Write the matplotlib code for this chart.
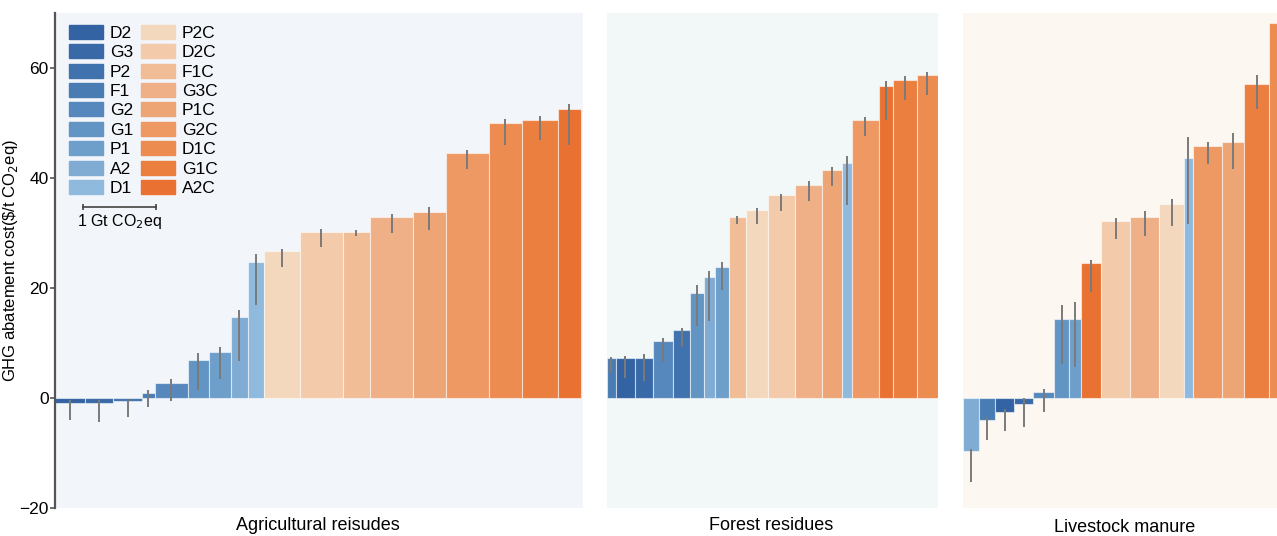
import numpy as np
import matplotlib.pyplot as plt

plt.rcParams['font.family'] = ['Liberation Sans', 'DejaVu Sans']

# legend order and colours
legend_names = ['D2', 'G3', 'P2', 'F1', 'G2', 'G1', 'P1', 'A2', 'D1',
                'P2C', 'D2C', 'F1C', 'G3C', 'P1C', 'G2C', 'D1C', 'G1C', 'A2C']
legend_colors = ['#3363a2', '#396aa7', '#4072ad', '#4a7cb4', '#5688bd', '#6295c4',
                 '#6e9fcb', '#80acd4', '#90b9de',
                 '#f4d8bd', '#f3cbaa', '#f1bd96', '#efb087', '#eea576', '#ee9863',
                 '#ed8c51', '#eb7f40', '#e97131']
cmap = dict(zip(legend_names, legend_colors))

# Agricultural residues: width (Gt CO2eq), cost ($/t CO2eq), uncertainty range
agri_names = ['D2', 'G3', 'P2', 'F1', 'G2', 'G1', 'P1', 'A2', 'D1',
              'P2C', 'D2C', 'F1C', 'G3C', 'P1C', 'G2C', 'D1C', 'G1C', 'A2C']
agri_width = [0.414, 0.386, 0.400, 0.179, 0.455, 0.290, 0.303, 0.234, 0.221,
              0.497, 0.589, 0.381, 0.593, 0.447, 0.593, 0.455, 0.501, 0.313]
agri_cost = [-1.0, -1.0, -0.7, 0.9, 2.6, 6.85, 8.2, 14.7, 24.6,
             26.7, 30.1, 30.2, 32.8, 33.8, 44.5, 49.9, 50.5, 52.4]
agri_lo = [-4.0, -4.5, -3.6, -1.8, -0.7, 1.3, 3.45, 6.7, 16.9,
           23.7, 27.3, 29.3, 29.9, 30.4, 41.5, 46.0, 46.9, 45.9]
agri_hi = [-0.5, -0.4, -0.2, 1.3, 3.3, 8.05, 9.2, 16.0, 26.2,
           27.1, 30.7, 30.5, 33.3, 34.6, 45.0, 50.7, 51.3, 53.4]

# Forest residues
forest_names = ['F1', 'D2', 'G3', 'G2', 'P2', 'G1', 'A2', 'P1',
                'F1C', 'P2C', 'D2C', 'G3C', 'P1C', 'D1', 'G2C', 'A2C', 'G1C', 'D1C']
forest_width = [0.124, 0.266, 0.252, 0.276, 0.230, 0.197, 0.143, 0.197,
                0.234, 0.299, 0.381, 0.372, 0.272, 0.138, 0.377, 0.189, 0.331, 0.290]
forest_cost = [7.15, 7.27, 7.27, 10.2, 12.3, 19.1, 22.0, 23.8,
               32.9, 34.2, 36.8, 38.7, 41.3, 42.7, 50.5, 56.7, 57.8, 58.6]
forest_lo = [4.4, 3.5, 3.1, 6.4, 9.15, 13.1, 13.9, 19.6,
             31.6, 31.5, 33.9, 35.8, 38.4, 35.0, 47.5, 50.4, 54.1, 55.0]
forest_hi = [7.3, 7.6, 7.9, 10.8, 12.7, 20.4, 23.1, 24.7,
             33.1, 34.5, 37.1, 39.3, 42.0, 43.9, 51.0, 57.5, 58.5, 59.2]

# Livestock manure
manure_names = ['A2', 'F1', 'D2', 'G3', 'G2', 'G1', 'P1', 'A2C',
                'D2C', 'G3C', 'P2C', 'D1', 'G2C', 'P1C', 'G1C', 'D1C']
manure_width = [0.221, 0.225, 0.262, 0.262, 0.290, 0.207, 0.166, 0.276,
                0.396, 0.404, 0.337, 0.128, 0.400, 0.303, 0.345, 0.300]
manure_cost = [-9.8, -4.1, -2.55, -1.15, 0.97, 14.2, 14.2, 24.4,
               32.2, 32.9, 35.2, 43.5, 45.8, 46.5, 57.1, 68.2]
manure_lo = [-15.4, -7.8, -6.1, -5.4, -2.7, 6.1, 5.6, 19.25,
             28.85, 29.3, 31.15, 31.6, 42.4, 41.6, 52.4, np.nan]
manure_hi = [-9.3, -3.45, -2.0, 0.0, 1.6, 16.9, 17.4, 25.1,
             32.7, 33.9, 36.2, 47.4, 46.4, 48.2, 58.7, np.nan]

W, H = 1277, 536
PX_PER_GT = 72.5
Y_TOP, Y_BOT = 12.7, 507.5

fig = plt.figure(figsize=(W / 100, H / 100), dpi=100)


def make_ax(x0, x1, bg):
    ax = fig.add_axes([x0 / W, 1 - Y_BOT / H, (x1 - x0) / W, (Y_BOT - Y_TOP) / H])
    ax.set_facecolor(bg)
    ax.set_xlim(0, (x1 - x0) / PX_PER_GT)
    ax.set_ylim(-20, 70)
    for s in ax.spines.values():
        s.set_visible(False)
    ax.set_xticks([])
    ax.set_yticks([])
    return ax


def draw(ax, names, widths, cost, lo, hi):
    widths = np.array(widths)
    left = np.concatenate([[0], np.cumsum(widths)[:-1]])
    ax.bar(left, cost, width=widths, align='edge',
           color=[cmap[n] for n in names],
           edgecolor=(1, 1, 1, 0.55), linewidth=0.8, zorder=2)
    ax.vlines(left + widths / 2, lo, hi, color='#7a7a7a', lw=1.4, zorder=3)


ax1 = make_ax(55, 583, '#f2f5f9')
ax2 = make_ax(606.7, 938, '#f2f7f8')
ax3 = make_ax(963, 1300, '#fcf7f1')

draw(ax1, agri_names, agri_width, agri_cost, agri_lo, agri_hi)
draw(ax2, forest_names, forest_width, forest_cost, forest_lo, forest_hi)
draw(ax3, manure_names, manure_width, manure_cost, manure_lo, manure_hi)

# y axis on first panel
ax1.spines['left'].set_visible(True)
ax1.spines['left'].set_color('#555555')
ax1.spines['left'].set_linewidth(1.6)
ax1.set_yticks([-20, 0, 20, 40, 60])
ax1.tick_params(axis='y', length=3.5, width=1.2, color='#555555',
                labelsize=12.5, pad=1)
ax1.set_ylabel(r'GHG abatement cost(\$/t CO$_2$eq)', fontsize=12)
ax1.yaxis.set_label_coords(-0.067, 0.50)

# legend
handles = [plt.Rectangle((0, 0), 1, 1, color=c) for c in legend_colors]
ax1.legend(handles, legend_names, ncol=2, loc='upper left',
           bbox_to_anchor=(0.004, 1.0), frameon=False, fontsize=12.5,
           handlelength=1.95, handleheight=0.85, handletextpad=0.4,
           labelspacing=0.2, columnspacing=0.45, borderaxespad=0.3)

# scale bar: 1 Gt CO2eq
sb_x = 0.39
ax1.plot([sb_x, sb_x + 1.0], [34.6, 34.6], color='#444444', lw=1.2,
         marker='|', markersize=5, markeredgewidth=1.2)
ax1.text(sb_x + 0.5, 32.0, '1 Gt CO$_2$eq', ha='center', va='center', fontsize=11.5)

fig.text(318 / W, 1 - 525 / H, 'Agricultural reisudes', ha='center', va='center', fontsize=13)
fig.text(771 / W, 1 - 525 / H, 'Forest residues', ha='center', va='center', fontsize=13)
fig.text(1125 / W, 1 - 528 / H, 'Livestock manure', ha='center', va='center', fontsize=13)

fig.savefig('out.png', dpi=100)
